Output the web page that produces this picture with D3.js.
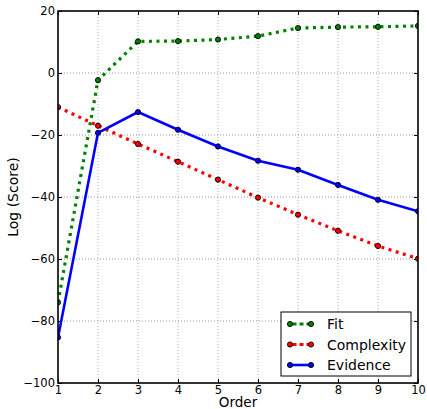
<!DOCTYPE html>
<html>
<head>
<meta charset="utf-8">
<script src="https://cdn.jsdelivr.net/npm/d3@7"></script>
<style>
  body { margin: 0; background: #fff; }
  svg { display: block; font-family: "DejaVu Sans", sans-serif; }
</style>
</head>
<body>
<div id="chart"></div>
<script>

var orders = [1, 2, 3, 4, 5, 6, 7, 8, 9, 10];
var fit = [-74, -2.3, 10.2, 10.3, 10.8, 11.9, 14.5, 14.8, 14.9, 15.2];
var complexity = [-11, -17, -22.9, -28.6, -34.4, -40.2, -45.7, -50.9, -55.8, -59.9];
var evidence = [-85.3, -19.3, -12.6, -18.3, -23.7, -28.3, -31.2, -36.1, -40.9, -44.6];
var xTicks = [1, 2, 3, 4, 5, 6, 7, 8, 9, 10];
var yTicks = [20, 0, -20, -40, -60, -80, -100];

var series = [
    {name: "Fit", values: fit, color: "#008000", dash: "3,4.5", width: 3.2},
    {name: "Complexity", values: complexity, color: "#ff0000", dash: "3,4.5", width: 3.2},
    {name: "Evidence", values: evidence, color: "#0000ff", dash: null, width: 2.6}
];

var W = 427, H = 409;
var margin = {left: 58, right: 9, top: 11, bottom: 26};

var svg = d3.select("#chart").append("svg")
    .attr("width", W)
    .attr("height", H);

var x = d3.scaleLinear().domain([1, 10]).range([margin.left, W - margin.right]);
var y = d3.scaleLinear().domain([-100, 20]).range([H - margin.bottom, margin.top]);

// grid
var grid = svg.append("g");
grid.selectAll(".gx").data(xTicks.slice(1, -1)).enter().append("line")
    .attr("x1", function(d){ return x(d); })
    .attr("x2", function(d){ return x(d); })
    .attr("y1", y(20)).attr("y2", y(-100))
    .attr("stroke", "#999").attr("stroke-width", 0.8).attr("stroke-dasharray", "1,2");
grid.selectAll(".gy").data(yTicks.slice(1, -1)).enter().append("line")
    .attr("x1", x(1)).attr("x2", x(10))
    .attr("y1", function(d){ return y(d); })
    .attr("y2", function(d){ return y(d); })
    .attr("stroke", "#777").attr("stroke-width", 0.8).attr("stroke-dasharray", "1,2");

// axes (ticks pointing inward)
var xAxis = svg.append("g")
    .attr("transform", "translate(0," + y(-100) + ")")
    .call(d3.axisBottom(x).tickValues(xTicks).tickSize(-4).tickPadding(3).tickFormat(d3.format("d")));
var yAxis = svg.append("g")
    .attr("transform", "translate(" + x(1) + ",0)")
    .call(d3.axisLeft(y).tickValues(yTicks).tickSize(-4).tickPadding(3)
        .tickFormat(function(d){ return d < 0 ? "\u2212" + Math.abs(d) : d; }));
[xAxis, yAxis].forEach(function(a){
    a.select(".domain").remove();
    a.selectAll("text").attr("font-size", 11.5).attr("font-family", "DejaVu Sans").attr("fill", "#000");
    a.selectAll("line").attr("stroke", "#000");
});
// right/top ticks
svg.append("g")
    .attr("transform", "translate(" + x(10) + ",0)")
    .call(d3.axisRight(y).tickValues(yTicks).tickSize(-4).tickFormat(""))
    .call(function(g){ g.select(".domain").remove(); });
svg.append("g")
    .attr("transform", "translate(0," + y(20) + ")")
    .call(d3.axisTop(x).tickValues(xTicks).tickSize(-4).tickFormat(""))
    .call(function(g){ g.select(".domain").remove(); });

// lines
var line = d3.line()
    .x(function(d, i){ return x(orders[i]); })
    .y(function(d){ return y(d); });

svg.append("clipPath").attr("id", "plotclip").append("rect")
    .attr("x", x(1)).attr("y", y(20))
    .attr("width", x(10) - x(1)).attr("height", y(-100) - y(20));

var plot = svg.append("g").attr("clip-path", "url(#plotclip)");

series.forEach(function(s){
    plot.append("path")
        .datum(s.values)
        .attr("d", line)
        .attr("fill", "none")
        .attr("stroke", s.color)
        .attr("stroke-width", s.width)
        .attr("stroke-dasharray", s.dash);
});
series.forEach(function(s){
    plot.selectAll(null).data(s.values).enter().append("circle")
        .attr("cx", function(d, i){ return x(orders[i]); })
        .attr("cy", function(d){ return y(d); })
        .attr("r", 2.6)
        .attr("fill", s.color)
        .attr("stroke", "#000")
        .attr("stroke-width", 0.9);
});

// frame
svg.append("rect")
    .attr("x", x(1)).attr("y", y(20))
    .attr("width", x(10) - x(1)).attr("height", y(-100) - y(20))
    .attr("fill", "none").attr("stroke", "#000").attr("stroke-width", 1.6);

// labels
svg.append("text")
    .attr("x", (x(1) + x(10)) / 2).attr("y", 407)
    .attr("text-anchor", "middle").attr("font-size", 13.5)
    .text("Order");
svg.append("text")
    .attr("transform", "translate(18," + (y(20) + y(-100)) / 2 + ") rotate(-90)")
    .attr("text-anchor", "middle").attr("font-size", 14)
    .text("Log (Score)");

// legend
var lg = svg.append("g").attr("transform", "translate(281,312)");
lg.append("rect").attr("width", 130).attr("height", 64)
    .attr("fill", "#fff").attr("stroke", "#000").attr("stroke-width", 1);
series.forEach(function(s, i){
    var row = lg.append("g").attr("transform", "translate(0," + (12 + i * 20.5) + ")");
    row.append("line")
        .attr("x1", 9).attr("x2", 30).attr("y1", 0).attr("y2", 0)
        .attr("stroke", s.color).attr("stroke-width", s.width)
        .attr("stroke-dasharray", s.dash ? "4,3" : null)
        .attr("stroke-dashoffset", s.dash ? -2.5 : null);
    [9, 30].forEach(function(cx){
        row.append("circle").attr("cx", cx).attr("cy", 0).attr("r", 2.6)
            .attr("fill", s.color).attr("stroke", "#000").attr("stroke-width", 0.9);
    });
    row.append("text").attr("x", 46).attr("y", 5)
        .attr("font-size", 14).text(s.name);
});

</script>
</body>
</html>
